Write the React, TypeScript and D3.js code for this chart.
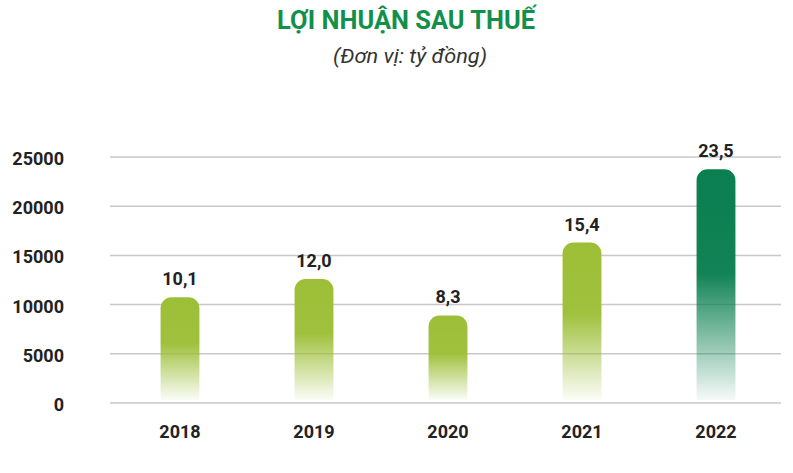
import React, { useEffect, useRef } from "react";
import * as d3 from "d3";

const years = ["2018", "2019", "2020", "2021", "2022"];
// bar heights as drawn in the picture (axis units)
const barValues = [10750, 12600, 8900, 16300, 23750];
// value labels printed above the bars
const valueLabels = ["10,1", "12,0", "8,3", "15,4", "23,5"];
const barColors = ["#9dbf37", "#9dbf37", "#9dbf37", "#9dbf37", "#0a7f50"];
const yTicks = [0, 5000, 10000, 15000, 20000, 25000];

export default function App() {
  const ref = useRef<SVGSVGElement>(null);

  useEffect(() => {
    const svg = d3.select(ref.current);
    svg.selectAll("*").remove();

    const width = 793;
    const height = 473;
    svg.attr("width", width).attr("height", height);

    const x = d3
      .scaleBand()
      .domain(years)
      .range([113, 783])
      .paddingInner(0.71)
      .paddingOuter(0.355);

    const y = d3.scaleLinear().domain([0, 25000]).range([403, 157]);

    const defs = svg.append("defs");
    barColors.forEach((c, i) => {
      const grad = defs
        .append("linearGradient")
        .attr("id", `grad${i}`)
        .attr("x1", 0)
        .attr("y1", 0)
        .attr("x2", 0)
        .attr("y2", 1);
      grad.append("stop").attr("offset", "0").attr("stop-color", c).attr("stop-opacity", 1);
      grad.append("stop").attr("offset", "0.45").attr("stop-color", c).attr("stop-opacity", 0.97);
      grad.append("stop").attr("offset", "1").attr("stop-color", c).attr("stop-opacity", 0.04);
    });

    // title
    svg
      .append("text")
      .attr("x", 406)
      .attr("y", 29)
      .attr("text-anchor", "middle")
      .attr("font-family", "Roboto, sans-serif")
      .attr("font-weight", 700)
      .attr("font-size", 25)
      .attr("fill", "#12904a")
      .attr("textLength", 258)
      .attr("lengthAdjust", "spacingAndGlyphs")
      .text("LỢI NHUẬN SAU THUẾ");

    svg
      .append("text")
      .attr("x", 410)
      .attr("y", 63)
      .attr("text-anchor", "middle")
      .attr("font-family", "Roboto, sans-serif")
      .attr("font-style", "italic")
      .attr("font-size", 20)
      .attr("fill", "#333")
      .attr("textLength", 154)
      .attr("lengthAdjust", "spacingAndGlyphs")
      .text("(Đơn vị: tỷ đồng)");

    // grid
    svg
      .append("g")
      .selectAll("line")
      .data(yTicks)
      .enter()
      .append("line")
      .attr("x1", 110)
      .attr("x2", 781)
      .attr("y1", (d) => y(d))
      .attr("y2", (d) => y(d))
      .attr("stroke", "#c8c8c8")
      .attr("stroke-width", 1.5);

    // y labels
    svg
      .append("g")
      .selectAll("text")
      .data(yTicks)
      .enter()
      .append("text")
      .attr("x", 64)
      .attr("y", (d) => y(d) + 8)
      .attr("text-anchor", "end")
      .attr("font-family", "Roboto, sans-serif")
      .attr("font-weight", 700)
      .attr("font-size", 18)
      .attr("fill", "#222")
      .text((d) => String(d));

    // bars
    const r = 11;
    const bw = x.bandwidth();
    const bottom = y(0) - 3;
    svg
      .append("g")
      .selectAll("path")
      .data(years)
      .enter()
      .append("path")
      .attr("fill", (_, i) => `url(#grad${i})`)
      .attr("d", (d, i) => {
        const x0 = x(d)!;
        const top = y(barValues[i]);
        const p = d3.path();
        p.moveTo(x0, bottom);
        p.lineTo(x0, top + r);
        p.arcTo(x0, top, x0 + r, top, r);
        p.lineTo(x0 + bw - r, top);
        p.arcTo(x0 + bw, top, x0 + bw, top + r, r);
        p.lineTo(x0 + bw, bottom);
        p.closePath();
        return p.toString();
      });

    // value labels
    svg
      .append("g")
      .selectAll("text")
      .data(years)
      .enter()
      .append("text")
      .attr("x", (d) => x(d)! + bw / 2)
      .attr("y", (d, i) => y(barValues[i]) - 12)
      .attr("text-anchor", "middle")
      .attr("font-family", "Roboto, sans-serif")
      .attr("font-weight", 700)
      .attr("font-size", 18)
      .attr("fill", "#222")
      .text((_, i) => valueLabels[i]);

    // x labels
    svg
      .append("g")
      .selectAll("text")
      .data(years)
      .enter()
      .append("text")
      .attr("x", (d) => x(d)! + bw / 2)
      .attr("y", 438)
      .attr("text-anchor", "middle")
      .attr("font-family", "Roboto, sans-serif")
      .attr("font-weight", 700)
      .attr("font-size", 18)
      .attr("fill", "#222")
      .text((d) => d);
  }, []);

  return (
    <div style={{ position: "absolute", left: 0, top: 0 }}>
      <svg ref={ref} style={{ display: "block" }} />
    </div>
  );
}
